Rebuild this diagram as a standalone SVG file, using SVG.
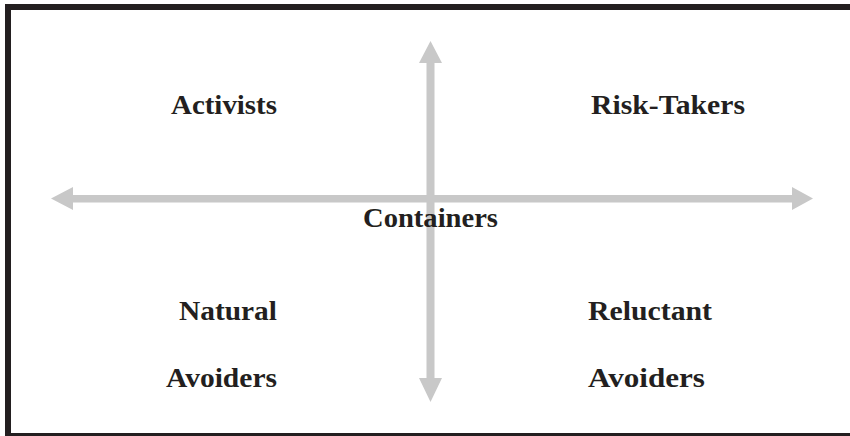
<svg xmlns="http://www.w3.org/2000/svg" width="850" height="436" viewBox="0 0 850 436">
<style>
.lbl{font-family:"Liberation Serif","Times New Roman",serif;font-weight:bold;font-size:27px;fill:#231f20}
.arr{fill:#c8c8c8;stroke:none}
</style>
<rect x="0" y="0" width="850" height="436" fill="#ffffff"/>
<rect x="8" y="7" width="850" height="429" fill="none" stroke="#231f20" stroke-width="6"/>
<g id="connectors">
<polygon class="arr" points="51,198.5 73,187 73,195 792,195 792,187 813,198.5 792,210 792,202.5 73,202.5 73,210"/>
<polygon class="arr" points="430.5,41 442,63 434.5,63 434.5,378 442,378 430.5,402 419,378 426.5,378 426.5,63 419,63"/>
</g>
<g id="activists"><text class="lbl" x="171" y="114" textLength="106" lengthAdjust="spacingAndGlyphs">Activists</text></g>
<g id="risk-takers"><text class="lbl" x="591" y="114" textLength="154" lengthAdjust="spacingAndGlyphs">Risk-Takers</text></g>
<g id="containers"><text class="lbl" x="363" y="227" textLength="135" lengthAdjust="spacingAndGlyphs">Containers</text></g>
<g id="natural-avoiders">
<text class="lbl" x="179" y="320" textLength="98" lengthAdjust="spacingAndGlyphs">Natural</text>
<text class="lbl" x="166" y="387" textLength="111" lengthAdjust="spacingAndGlyphs">Avoiders</text>
</g>
<g id="reluctant-avoiders">
<text class="lbl" x="588" y="320" textLength="124" lengthAdjust="spacingAndGlyphs">Reluctant</text>
<text class="lbl" x="588" y="387" textLength="117" lengthAdjust="spacingAndGlyphs">Avoiders</text>
</g>
</svg>
